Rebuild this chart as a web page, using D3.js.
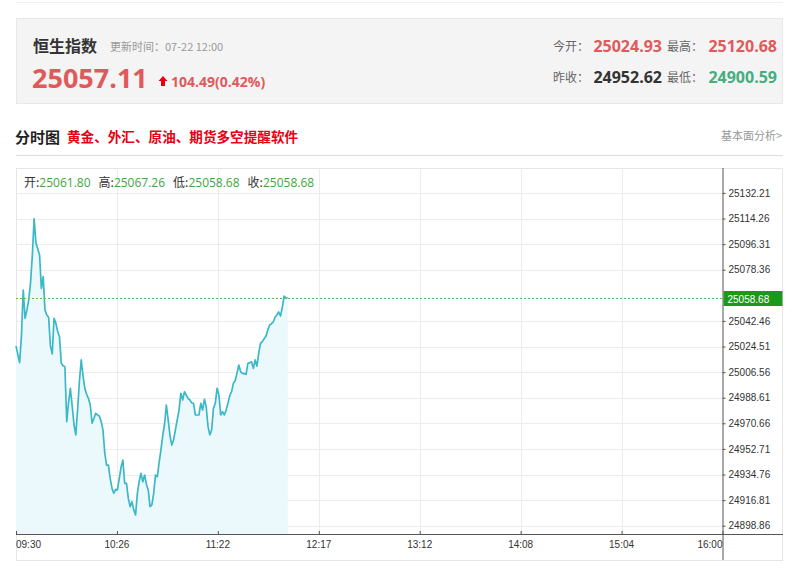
<!DOCTYPE html>
<html><head><meta charset="utf-8">
<script src="https://cdn.jsdelivr.net/npm/d3@7/dist/d3.min.js"></script>
<style>
body{margin:0;background:#fff;}
svg{display:block;}
.cjk{font-family:"Noto Sans CJK SC","Noto Sans",sans-serif;}
.num{font-family:"Open Sans","Noto Sans",sans-serif;}
.ax{font-family:"Liberation Sans",Arial,sans-serif;}
</style>
</head><body>
<svg id="c" width="800" height="587"></svg>
<script>
// ---- data ----
const indexName = "恒生指数";
const updateTime = "更新时间：07-22 12:00";
const lastPrice = "25057.11";
const change = "104.49(0.42%)";
const todayOpen = "25024.93";
const dayHigh = "25120.68";
const prevClose = "24952.62";
const dayLow = "24900.59";
const barOpen = "25061.80", barHigh = "25067.26", barLow = "25058.68", barClose = "25058.68";
const latestValue = 25058.68;
// one value per minute from 09:30
const prices = [
25024.9,25019,25013.2,25032,25064.1,25044.3,25050,25057.1,25068.8,25088,
25114,25097,25093,25088.7,25065.3,25073.5,25050,25046.6,25045,25025,
25019.3,25044.3,25040.8,25035,25031.4,25012.7,25011,25010.3,24971.8,24985,
24995.2,24983,24970,24962.5,24980,25000,25015.1,25004,24995,24991,
24988,24983.5,24970.7,24974,24977.7,24976.5,24975.8,24972,24966,24950,
24941.4,24941.4,24932,24925,24921.6,24924.4,24923.9,24932,24940,24944.9,
24928.6,24928.6,24918,24912.2,24915.7,24910,24906.4,24921.6,24930,24935.6,
24929.7,24934.4,24928,24923.9,24912.2,24913.4,24921.6,24934.4,24933.2,24943,
24952,24962,24970,24983.5,24973,24962,24955.4,24959,24966,24973,
24980,24991.7,24987,24992.8,24990.5,24988,24987,24985,24984.7,24976.5,
24976.5,24976.5,24984.7,24980,24987.5,24982.3,24968.3,24962.5,24966,24981.2,
24984.7,24995.2,24990.5,24976.5,24978.8,24976.5,24980,24984.7,24990,24992.8,
24998.7,25000.5,25006,25011.5,25006.8,25005.7,25005.5,25005,25012.7,25013,
25013.9,25009.2,25015.1,25010.8,25020,25026.8,25027.9,25030,25031.9,25036,
25039.6,25040.5,25041.7,25045,25046.6,25048.7,25045.9,25052,25059.9,25058.5,
25058.68
];
const timeLabels = ["09:30","10:26","11:22","12:17","13:12","14:08","15:04","16:00"];
const priceTicks = ["25132.21","25114.26","25096.31","25078.36","25042.46","25024.51","25006.56","24988.61","24970.66","24952.71","24934.76","24916.81","24898.86"];

// ---- drawing ----
const svg = d3.select("#c");
const L = 16, R = 722.5, T = 168, B = 534;
const x = d3.scaleLinear().domain([0, 390]).range([L, R]);
const y = d3.scaleLinear().domain([24893.04, 25149.68]).range([B, T]);
const xt = d3.scalePoint().domain(timeLabels).range([L, R]);

svg.append("line").attr("x1",16).attr("x2",783).attr("y1",2.5).attr("y2",2.5).attr("stroke","#f0f0f0");
svg.append("rect").attr("x",16.5).attr("y",18.5).attr("width",766).attr("height",85)
  .attr("fill","#f4f4f4").attr("stroke","#e8e8e8");
svg.append("text").attr("class","cjk").attr("x",33).attr("y",52).attr("font-size",16).attr("font-weight","bold").attr("fill","#333").text(indexName);
svg.append("text").attr("class","cjk").attr("x",110).attr("y",51).attr("font-size",11).attr("fill","#999").text(updateTime);
svg.append("text").attr("class","num").attr("x",32).attr("y",88).attr("font-size",27).attr("font-weight","bold").attr("fill","#e05a5c").text(lastPrice);
svg.append("path").attr("d","M163,76 L167.5,81 L165,81 L165,86 L161,86 L161,81 L158.5,81 Z").attr("fill","#e60012");
svg.append("text").attr("class","num").attr("x",171).attr("y",87).attr("font-size",14).attr("font-weight","bold").attr("fill","#e05a5c").text(change);

function hdr(label, lx, val, vx, yy, col){
  svg.append("text").attr("class","cjk").attr("x",lx).attr("y",yy-1).attr("font-size",12).attr("fill","#666").text(label);
  svg.append("text").attr("class","num").attr("x",vx).attr("y",yy).attr("text-anchor","end").attr("font-size",16).attr("font-weight","bold").attr("fill",col).text(val);
}
hdr("今开：",553,todayOpen,662,52,"#e05a5c");
hdr("最高：",667,dayHigh,777,52,"#e05a5c");
hdr("昨收：",553,prevClose,662,83,"#333");
hdr("最低：",667,dayLow,777,83,"#47ad80");

svg.append("text").attr("class","cjk").attr("x",15).attr("y",143).attr("font-size",15).attr("font-weight","bold").attr("fill","#222").text("分时图");
svg.append("text").attr("class","cjk").attr("x",67).attr("y",142).attr("font-size",13.6).attr("font-weight","bold").attr("fill","#e60012").text("黄金、外汇、原油、期货多空提醒软件");
svg.append("text").attr("class","cjk").attr("x",782).attr("y",140).attr("text-anchor","end").attr("font-size",11).attr("fill","#999").text("基本面分析>");
svg.append("line").attr("x1",16).attr("x2",783).attr("y1",155.5).attr("y2",155.5).attr("stroke","#dcdcdc");

svg.append("rect").attr("x",16.5).attr("y",168.5).attr("width",766).attr("height",392).attr("fill","#fff").attr("stroke","#e6e6e6");

const g = svg.append("g");
g.selectAll(".hg").data(priceTicks).join("line")
  .attr("x1",L).attr("x2",R).attr("y1",d=>Math.round(y(+d))+0.5).attr("y2",d=>Math.round(y(+d))+0.5)
  .attr("stroke","#ececec");
g.selectAll(".vg").data(timeLabels.slice(1,-1)).join("line")
  .attr("x1",d=>Math.round(xt(d))+0.5).attr("x2",d=>Math.round(xt(d))+0.5).attr("y1",T).attr("y2",B)
  .attr("stroke","#ececec");

const idx = prices.map((p,i)=>i);
const area = d3.area().x(i=>x(i)).y0(B).y1(i=>y(prices[i]));
svg.append("path").datum(idx).attr("d",area).attr("fill","#ebf8fc");
const line = d3.line().x(i=>x(i)).y(i=>y(prices[i]));
svg.append("path").datum(idx).attr("d",line).attr("fill","none").attr("stroke","#3bb8c8").attr("stroke-width",1.7).attr("stroke-linejoin","round");

const yl = Math.round(y(latestValue))+0.5;
svg.append("line").attr("x1",L).attr("x2",R).attr("y1",yl).attr("y2",yl).attr("stroke","#5cbf5c").attr("stroke-dasharray","2,2");

const info = svg.append("text").attr("class","num").attr("x",24).attr("y",187).attr("font-size",12);
[["开:",barOpen],["高:",barHigh],["低:",barLow],["收:",barClose]].forEach((d,i)=>{
  info.append("tspan").attr("fill","#333").attr("class","cjk").attr("dx", i? 8:0).text(d[0]);
  info.append("tspan").attr("fill","#3aa83a").text(d[1]);
});

const yAxis = d3.axisRight(y).tickValues(priceTicks.map(Number)).tickFormat((d,i)=>priceTicks[i]).tickSize(3).tickPadding(3);
const ya = svg.append("g").attr("transform",`translate(${R},0)`).call(yAxis);
ya.select(".domain").remove();
ya.selectAll("text").attr("class","ax").attr("font-size",10).attr("fill","#333");
ya.selectAll("line").attr("stroke","#555");
svg.append("line").attr("x1",R+0.5).attr("x2",R+0.5).attr("y1",168).attr("y2",560).attr("stroke","#555");

svg.append("line").attr("x1",L).attr("x2",783).attr("y1",B+0.5).attr("y2",B+0.5).attr("stroke","#555");
const xa = svg.append("g").attr("transform",`translate(0,${B})`).call(d3.axisTop(xt).tickSize(3).tickFormat(()=>""));
xa.select(".domain").remove();
xa.selectAll("line").attr("stroke","#555");
svg.selectAll(".tl").data(timeLabels).join("text").attr("class","ax")
  .attr("x",d=>xt(d)).attr("y",548).attr("font-size",10).attr("fill","#333")
  .attr("text-anchor",(d,i)=> i===0 ? "start" : (i===timeLabels.length-1 ? "end" : "middle"))
  .text(d=>d);

svg.append("rect").attr("x",R+1).attr("y",yl-7.5).attr("width",59).attr("height",15).attr("fill","#1a9a1a");
svg.append("text").attr("class","ax").attr("x",R+5).attr("y",yl+4).attr("font-size",10).attr("fill","#fff").text(latestValue.toFixed(2));
</script>
</body></html>
